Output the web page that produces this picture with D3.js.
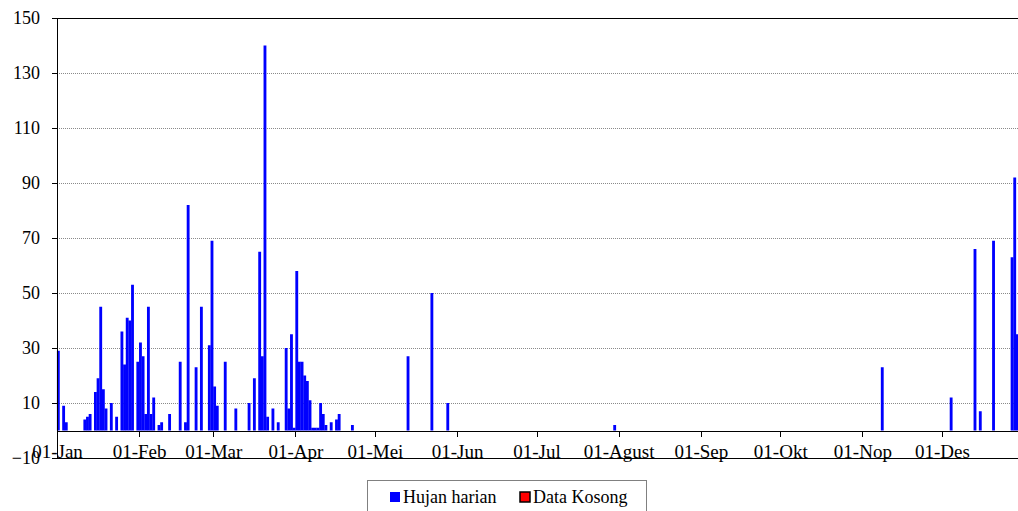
<!DOCTYPE html>
<html>
<head>
<meta charset="utf-8">
<script src="https://cdn.jsdelivr.net/npm/d3@7"></script>
<style>
	body { margin: 0; background: #fff; }
	svg { display: block; font-family: 'Liberation Serif', 'Times New Roman', serif; }
</style>
</head>
<body>
<div id="chart"></div>
<script>
'use strict';

// hari ke- (0 = 01-Jan) dan curah hujan harian (mm)
var rainDays = [0,2,3,10,11,12,14,15,16,17,18,20,22,24,25,26,27,28,
	30,31,32,33,34,35,36,38,39,42,46,48,49,52,54,57,58,59,60,63,67,
	72,74,76,77,78,79,81,83,86,87,88,89,90,91,92,93,94,95,96,97,98,
	99,100,101,103,105,106,111,132,141,147,210,311,337,346,348,353,
	360,361,362,363];
var rainValues = [29,9,3,4,5,6,14,19,45,15,8,10,5,36,24,41,40,53,
	25,32,27,6,45,6,12,2,3,6,25,3,82,23,45,31,69,16,9,25,8,
	10,19,65,27,140,5,8,3,30,8,35,1,58,25,25,20,18,11,1,1,1,
	10,6,2,3,4,6,2,27,50,10,2,23,12,66,7,69,
	63,92,35,4];

var monthStarts = [0,31,59,90,120,151,181,212,243,273,304,334];
var monthLabels = ['01-Jan','01-Feb','01-Mar','01-Apr','01-Mei','01-Jun',
	'01-Jul','01-Agust','01-Sep','01-Okt','01-Nop','01-Des'];
var yTicks = [-10,10,30,50,70,90,110,130,150];
var legendLabels = ['Hujan harian','Data Kosong'];
var legendColors = ['#0000ff','#ff0000'];

var width = 1018, height = 511;
var margin = { left: 57, top: 18, right: 1024, bottom: 458 };

var svg = d3.select('#chart').append('svg')
	.attr('width', width)
	.attr('height', height)
	;

var x = d3.scaleLinear()
	.domain([0, 365])
	.range([margin.left, margin.right])
	;
var y = d3.scaleLinear()
	.domain([-10, 150])
	.range([margin.bottom, margin.top])
	;

// garis bantu
svg.append('g')
	.attr('class', 'grid')
	.selectAll('line')
	.data(yTicks.filter(function(v) { return v > -10 && v < 150; }))
	.enter().append('line')
		.attr('x1', margin.left)
		.attr('x2', margin.right)
		.attr('y1', function(v) { return y(v); })
		.attr('y2', function(v) { return y(v); })
		.attr('stroke', '#8a8a8a')
		.attr('stroke-dasharray', '1 1')
		.attr('shape-rendering', 'crispEdges')
	;

// batang
var rain = rainDays.map(function(d, i) { return { day: d, value: rainValues[i] }; });
svg.append('g')
	.attr('class', 'bars')
	.selectAll('rect')
	.data(rain)
	.enter().append('rect')
		.attr('x', function(r) { return x(r.day) - 0.1; })
		.attr('width', function(r) { return x(r.day + 1) - x(r.day) + 0.2; })
		.attr('y', function(r) { return y(r.value); })
		.attr('height', function(r) { return y(0) - y(r.value); })
		.attr('fill', '#0000ff')
	;

// bingkai atas / bawah
[150, -10].forEach(function(v) {
	svg.append('line')
		.attr('x1', margin.left)
		.attr('x2', margin.right)
		.attr('y1', y(v))
		.attr('y2', y(v))
		.attr('stroke', '#000')
		.attr('shape-rendering', 'crispEdges')
		;
});

var xAxis = d3.axisBottom(x)
	.tickValues(monthStarts)
	.tickFormat(function(d, i) { return monthLabels[i]; })
	.tickSize(6)
	.tickSizeOuter(0)
	.tickPadding(8)
	;
svg.append('g')
	.attr('class', 'x axis')
	.attr('transform', 'translate(0,' + y(0) + ')')
	.call(xAxis)
	;

var yAxis = d3.axisLeft(y)
	.tickValues(yTicks)
	.tickSize(5)
	.tickSizeOuter(0)
	.tickPadding(12)
	;
svg.append('g')
	.attr('class', 'y axis')
	.attr('transform', 'translate(' + margin.left + ',0)')
	.call(yAxis)
	;

svg.selectAll('.axis')
	.attr('font-family', null)
	.attr('font-size', 18)
	;
svg.selectAll('.axis text')
	.attr('fill', '#000')
	;
svg.selectAll('.x.axis text')
	.attr('font-size', 19)
	;
svg.selectAll('.axis path, .axis line')
	.attr('stroke', '#000')
	.attr('shape-rendering', 'crispEdges')
	;

// legenda
var legend = svg.append('g')
	.attr('class', 'legend')
	.attr('transform', 'translate(367,480)')
	;
legend.append('rect')
	.attr('x', 0)
	.attr('y', 0)
	.attr('width', 279)
	.attr('height', 45)
	.attr('fill', '#fff')
	.attr('stroke', '#808080')
	.attr('shape-rendering', 'crispEdges')
	;
var legendX = [23, 153];
var items = legend.selectAll('.item')
	.data(legendLabels)
	.enter().append('g')
		.attr('class', 'item')
		.attr('transform', function(d, i) { return 'translate(' + legendX[i] + ',0)'; })
	;
items.append('rect')
	.attr('x', 0)
	.attr('y', 12)
	.attr('width', 10)
	.attr('height', 10)
	.attr('fill', function(d, i) { return legendColors[i]; })
	.attr('stroke', function(d, i) { return i === 1 ? '#000' : null; })
	.attr('stroke-width', 1.5)
	;
items.append('text')
	.attr('x', 13)
	.attr('y', 23)
	.attr('font-size', 18)
	.text(function(d) { return d; })
	;
</script>
</body>
</html>
